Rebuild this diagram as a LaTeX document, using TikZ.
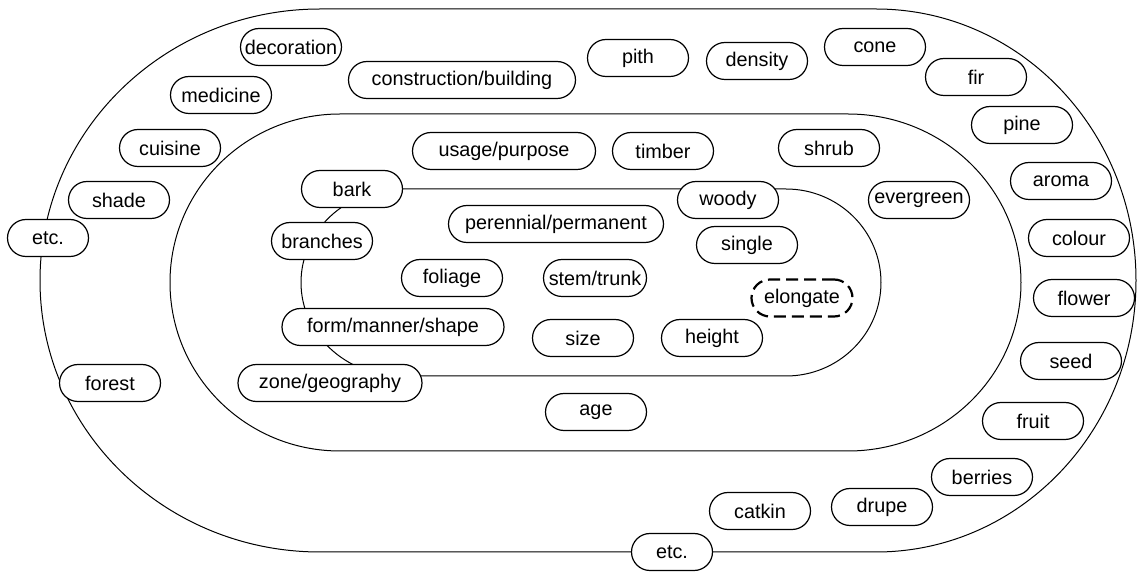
\documentclass[tikz,border=0pt]{standalone}
\usepackage{fontspec}
\setmainfont{Liberation Sans}

\begin{document}
\begin{tikzpicture}[x=0.5pt, y=-0.5pt,
    ring/.style={line width=0.5pt},
    tag/.style={draw, fill=white, line width=0.6pt, rounded corners=9.25pt,
        minimum width=50.5pt, minimum height=18.5pt, inner xsep=0pt,
        font=\fontsize{9.9}{11}\selectfont},
    guess/.style={tag, line width=1.1pt, dash pattern=on 6pt off 3pt}]
    \useasboundingbox (0,0) rectangle (1137,572);
    % Rings
    \draw[ring] (320,9) -- (876,9)
        arc[start angle=90, end angle=-90, x radius=130pt, y radius=135.75pt]
        -- (320,552)
        arc[start angle=270, end angle=90, x radius=140pt, y radius=135.75pt] -- cycle;
    \draw[ring] (340,114) -- (848,114)
        arc[start angle=90, end angle=-90, x radius=86.5pt, y radius=84.25pt]
        -- (340,451)
        arc[start angle=270, end angle=90, x radius=85pt, y radius=84.25pt] -- cycle;
    \draw[ring] (401,189) -- (786,189)
        arc[start angle=90, end angle=-90, x radius=47.5pt, y radius=46.75pt]
        -- (401,376)
        arc[start angle=270, end angle=90, x radius=50pt, y radius=46.75pt] -- cycle;
    % Outer ring
    \node[tag] (decoration) at (291,47) {decoration};
    \node[tag] (medicine) at (221,95) {medicine};
    \node[tag] (cuisine) at (170,148) {cuisine};
    \node[tag] (shade) at (119,200) {shade};
    \node[tag, minimum width=40.5pt] (etcleft) at (48,238) {etc.};
    \node[tag] (forest) at (110,383) {forest};
    \node[tag, minimum width=113.5pt] (construction) at (462,80) {construction/building};
    \node[tag] (pith) at (638,58) {pith};
    \node[tag] (density) at (757,61) {density};
    \node[tag] (cone) at (875,47) {cone};
    \node[tag] (fir) at (976,77) {fir};
    \node[tag] (pine) at (1022,125) {pine};
    \node[tag] (aroma) at (1061,181) {aroma};
    \node[tag] (colour) at (1079,238) {colour};
    \node[tag] (flower) at (1084,298) {flower};
    \node[tag] (seed) at (1071,361) {seed};
    \node[tag] (fruit) at (1033,421) {fruit};
    \node[tag] (berries) at (982,477) {berries};
    \node[tag] (drupe) at (882,507) {drupe};
    \node[tag] (catkin) at (760,511) {catkin};
    \node[tag, minimum width=40.5pt] (etcbottom) at (672,552) {etc.};
    % Middle ring
    \node[tag, minimum width=91.5pt] (usage) at (504,151) {usage/purpose};
    \node[tag] (timber) at (663,151) {timber};
    \node[tag] (shrub) at (829,148) {shrub};
    \node[tag] (evergreen) at (919,200) {evergreen};
    \node[tag, minimum width=92pt] (zone) at (330,383) {zone/geography};
    \node[tag] (age) at (596,412) {age};
    % Inner ring
    \node[tag] (bark) at (352,189) {bark};
    \node[tag] (woody) at (728,200) {woody};
    \node[tag] (branches) at (322,241) {branches};
    \node[tag, minimum width=107.5pt] (perennial) at (556,224) {perennial/permanent};
    \node[tag] (single) at (747,245) {single};
    \node[tag] (foliage) at (452,278) {foliage};
    \node[tag, minimum width=51.5pt] (stem) at (595,278) {stem/trunk};
    \node[guess] (elongate) at (802,298) {elongate};
    \node[tag, minimum width=111pt] (form) at (393,327) {form/manner/shape};
    \node[tag] (size) at (583,338) {size};
    \node[tag] (height) at (712,338) {height};
\end{tikzpicture}
\end{document}
